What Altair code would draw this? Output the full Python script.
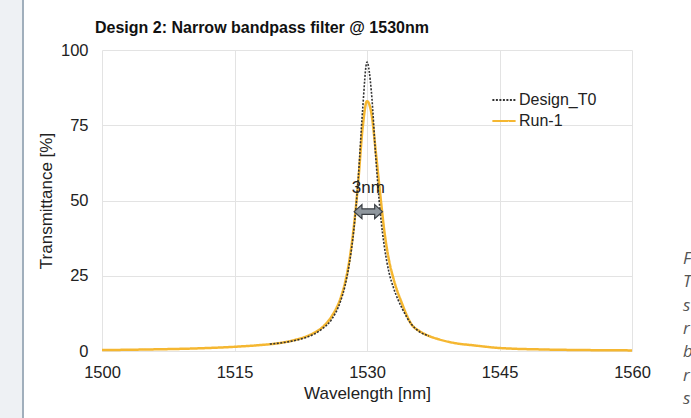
import altair as alt
import pandas as pd

# ---- data ----
run_wl = [1500, 1505, 1510, 1515, 1518, 1520, 1522, 1523, 1524, 1525, 1526, 1527,
          1527.5, 1528, 1528.5, 1529, 1529.5, 1530, 1530.5, 1531, 1531.5, 1532,
          1532.5, 1533, 1534, 1535, 1536, 1537, 1538, 1540, 1542, 1545, 1550, 1555, 1560]
run_t = [0.3, 0.5, 0.8, 1.4, 2.0, 2.6, 3.8, 4.7, 6.0, 8.0, 11.5, 17.5,
         22.5, 30, 41, 56, 74, 83, 79, 66, 52, 39,
         30, 24, 15.5, 9, 6.5, 5, 4, 2.6, 1.9, 1.0, 0.5, 0.3, 0.2]

design_wl = [1519, 1520, 1522, 1523, 1524, 1525, 1526, 1527, 1527.5, 1528, 1528.5,
             1529, 1529.5, 1530, 1530.5, 1531, 1531.5, 1532, 1532.5, 1533, 1534,
             1535, 1536, 1537]
design_t = [2.3, 2.6, 3.6, 4.4, 5.6, 7.5, 10.5, 16.5, 21.5, 29, 40,
            57, 80, 96, 86, 64, 46, 34, 26, 21, 14,
            9, 6.3, 5]

series_names = ["Design_T0", "Run-1"]
series_colors = ["#333333", "#F5B731"]
x_ticks = [1500, 1515, 1530, 1545, 1560]
y_ticks = [0, 25, 50, 75, 100]

anno_label = ["3nm"]
anno_wl = [1530.15]
anno_text_t = [54]
anno_arrow_t = [46.3]

caption_letters = ["F", "T", "s", "r", "b", "r", "s"]

title_text = "Design 2: Narrow bandpass filter @ 1530nm"
FONT = "Liberation Sans"

run_df = pd.DataFrame({"wl": run_wl, "t": run_t, "series": "Run-1"})
design_df = pd.DataFrame({"wl": design_wl, "t": design_t, "series": "Design_T0"})
anno_df = pd.DataFrame({"wl": anno_wl, "tt": anno_text_t, "ta": anno_arrow_t, "label": anno_label})
one = pd.DataFrame({"a": [0]})

xscale = alt.Scale(domain=[1500, 1560], nice=False, zero=False)
yscale = alt.Scale(domain=[0, 100], nice=False)

color_scale = alt.Scale(domain=series_names, range=series_colors)
dash_scale = alt.Scale(domain=series_names, range=[[2, 1.5], [1, 0]])

xenc = alt.X("wl:Q", scale=xscale, title="Wavelength [nm]",
             axis=alt.Axis(values=x_ticks, format="d", grid=True, domain=False, ticks=False,
                           labelPadding=13, titlePadding=5, labelFlush=False))
yenc = alt.Y("t:Q", scale=yscale, title="Transmittance [%]",
             axis=alt.Axis(values=y_ticks, grid=True, domain=False, ticks=False,
                           labelPadding=14, titlePadding=5))

legend = alt.Legend(title=None, orient="none", legendX=389, legendY=37,
                    symbolType="stroke", symbolSize=540, symbolStrokeWidth=2.2,
                    labelFontSize=16, labelOffset=2, rowPadding=0, padding=0)

run_line = alt.Chart(run_df).mark_line(strokeWidth=2.5, interpolate="monotone").encode(
    x=xenc, y=yenc,
    color=alt.Color("series:N", scale=color_scale, legend=legend),
    strokeDash=alt.StrokeDash("series:N", scale=dash_scale, legend=legend),
)
design_line = alt.Chart(design_df).mark_line(strokeWidth=1.6, interpolate="monotone").encode(
    x="wl:Q", y="t:Q",
    color=alt.Color("series:N", scale=color_scale, legend=legend),
    strokeDash=alt.StrokeDash("series:N", scale=dash_scale, legend=legend),
)

arrow_shape = ("M -1 0 L -0.45 -0.5 L -0.45 -0.2 L 0.45 -0.2 L 0.45 -0.5 L 1 0 "
               "L 0.45 0.5 L 0.45 0.2 L -0.45 0.2 L -0.45 0.5 Z")
arrow = alt.Chart(anno_df).mark_point(shape=arrow_shape, filled=True, size=800,
                                      fill="#8f979e", stroke="#3a3f44", strokeWidth=1.2,
                                      opacity=1).encode(
    x="wl:Q", y="ta:Q")
anno_text = alt.Chart(anno_df).mark_text(font=FONT, fontSize=17, color="#222222",
                                         baseline="middle").encode(
    x="wl:Q", y="tt:Q", text="label:N")

# page decorations outside the plot area
side_panel = alt.Chart(one).mark_rect(color="#eef1f4").encode(
    x=alt.value(-102), x2=alt.value(-80), y=alt.value(-50), y2=alt.value(368))
side_line = alt.Chart(one).mark_rule(color="#6e8498", strokeWidth=1.3).encode(
    x=alt.value(-79), y=alt.value(-50), y2=alt.value(368))
caption = alt.Chart(one).mark_text(font="Open Sans", fontStyle="italic", fontSize=17,
                                   color="#555555", align="left", baseline="alphabetic",
                                   lineHeight=23.3).encode(
    x=alt.value(581), y=alt.value(214), text=alt.value(caption_letters))

chart = alt.layer(side_panel, side_line, caption, run_line, design_line, arrow, anno_text).properties(
    width=530, height=301,
    title=alt.TitleParams(title_text, font=FONT, fontSize=16, fontWeight="bold",
                          color="#111111", anchor="start", dx=-7, offset=-37,
                          frame="group"),
    autosize=alt.AutoSizeParams(type="none"),
    padding={"left": 102, "top": 50, "right": 59, "bottom": 67},
    background="white",
).configure_view(stroke=None).configure_axis(
    labelFont=FONT, titleFont=FONT, labelFontSize=16.5, titleFontSize=17,
    labelColor="#222222", titleColor="#222222", titleFontWeight="normal",
    gridColor="#e3e3e3", gridWidth=1,
).configure_legend(labelFont=FONT, labelColor="#222222")

chart.save("out.html", embed_options={"renderer": "svg", "actions": False})
